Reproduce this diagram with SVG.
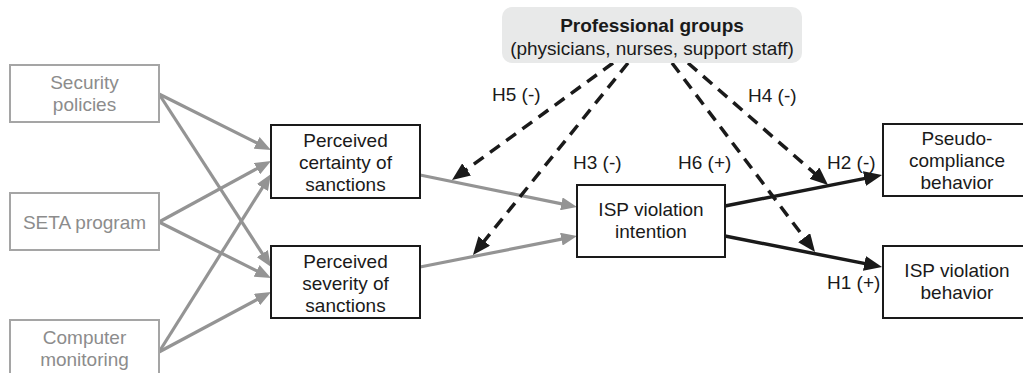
<svg xmlns="http://www.w3.org/2000/svg" width="1023" height="373" viewBox="0 0 1023 373">
<style>
text{font-family:"Liberation Sans",Arial,Helvetica,sans-serif;font-size:19px;text-anchor:middle;fill:#1a1a1a}
.src rect{fill:#fff;stroke:#a5a5a5;stroke-width:2}
.src text{fill:#8c8c8c}
.box rect{fill:#fff;stroke:#1a1a1a;stroke-width:2}
.lbl{text-anchor:start}
.g{stroke:#949494;stroke-width:3.2;fill:none;marker-end:url(#ag)}
.k{stroke:#1a1a1a;stroke-width:3.5;fill:none;marker-end:url(#ak)}
.d{stroke:#1a1a1a;stroke-width:3.5;fill:none;stroke-dasharray:12 8;marker-end:url(#ak)}
</style>
<defs>
<marker id="ag" markerUnits="userSpaceOnUse" markerWidth="16" markerHeight="13" viewBox="0 0 16 13" refX="8" refY="6.5" orient="auto"><path d="M0,0 L16,6.5 L0,13 z" fill="#949494"/></marker>
<marker id="ak" markerUnits="userSpaceOnUse" markerWidth="18" markerHeight="15" viewBox="0 0 18 15" refX="10" refY="7.5" orient="auto"><path d="M0,0 L18,7.5 L0,15 z" fill="#1a1a1a"/></marker>
</defs>
<g id="connectors">
<path class="g" d="M159,94 L263.8,146.4"/>
<path class="g" d="M159,94 L266.7,260.3"/>
<path class="g" d="M159,222 L264,164.8"/>
<path class="g" d="M159,222 L263.8,274.4"/>
<path class="g" d="M159,352 L266.7,180.8"/>
<path class="g" d="M159,352 L264,295.8"/>
<path class="g" d="M420,175 L569.2,205.4"/>
<path class="g" d="M420,267 L569.2,237.6"/>
<path class="k" d="M725,206 L874.2,176.6"/>
<path class="k" d="M725,236 L874.2,265.4"/>
<path class="d" d="M613,63 L458.5,175.3"/>
<path class="d" d="M628,63 L478,248.8"/>
<path class="d" d="M672,63 L810.2,245.6"/>
<path class="d" d="M688,63 L822,179.7"/>
</g>
<g id="labels">
<text class="lbl" x="492" y="101">H5 (-)</text>
<text class="lbl" x="573" y="169">H3 (-)</text>
<text class="lbl" x="678" y="169">H6 (+)</text>
<text class="lbl" x="748" y="102">H4 (-)</text>
<text class="lbl" x="827" y="169">H2 (-)</text>
<text class="lbl" x="827" y="289">H1 (+)</text>
</g>
<g id="security-policies" class="src"><rect x="10" y="65" width="149" height="57"/><text x="84.5" y="89">Security</text><text x="84.5" y="111">policies</text></g>
<g id="seta-program" class="src"><rect x="10" y="193" width="149" height="57"/><text x="84.5" y="229">SETA program</text></g>
<g id="computer-monitoring" class="src"><rect x="10" y="320" width="149" height="60"/><text x="84.5" y="344">Computer</text><text x="84.5" y="366">monitoring</text></g>
<g id="certainty" class="box"><rect x="271" y="125" width="149" height="73"/><text x="345.5" y="147">Perceived</text><text x="345.5" y="169">certainty of</text><text x="345.5" y="191">sanctions</text></g>
<g id="severity" class="box"><rect x="271" y="246" width="149" height="72"/><text x="345.5" y="268">Perceived</text><text x="345.5" y="290">severity of</text><text x="345.5" y="312">sanctions</text></g>
<g id="intention" class="box"><rect x="577" y="185" width="148" height="72"/><text x="651" y="216">ISP violation</text><text x="651" y="238">intention</text></g>
<g id="pseudo" class="box"><rect x="883" y="124" width="148" height="72"/><text x="957" y="145">Pseudo-</text><text x="957" y="167">compliance</text><text x="957" y="189">behavior</text></g>
<g id="behavior" class="box"><rect x="883" y="246" width="148" height="72"/><text x="957" y="277">ISP violation</text><text x="957" y="299">behavior</text></g>
<g id="professional-groups"><rect x="502" y="7" width="300" height="56" rx="10" fill="#e8e9e9"/><text x="652" y="32" font-weight="bold">Professional groups</text><text x="652" y="55">(physicians, nurses, support staff)</text></g>
</svg>
